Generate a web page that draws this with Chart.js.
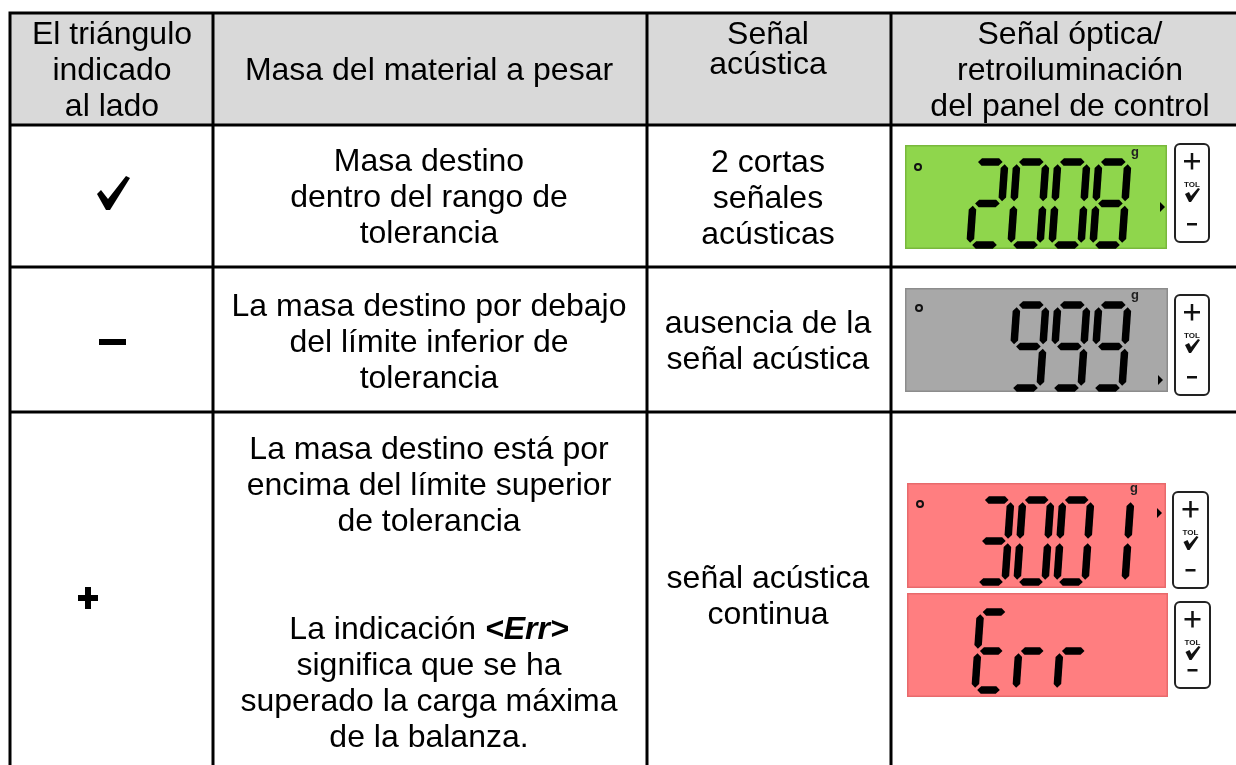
<!DOCTYPE html>
<html>
<head>
<meta charset="utf-8">
<script src="https://cdn.jsdelivr.net/npm/chart.js@4/dist/chart.umd.min.js"></script>
<style>
  html, body { margin: 0; padding: 0; background: #ffffff; }
  #c { display: block; }
</style>
</head>
<body>
<canvas id="c" width="1236" height="765"></canvas>
<script>
// ---------- DATA ----------
const headerTexts = [
  ["El triángulo", "indicado", "al lado"],
  ["Masa del material a pesar"],
  ["Señal", "acústica"],
  ["Señal óptica/", "retroiluminación", "del panel de control"]
];
const indicators = ["check", "minus", "plus"];
const massTexts = [
  ["Masa destino", "dentro del rango de", "tolerancia"],
  ["La masa destino por debajo", "del límite inferior de", "tolerancia"],
  ["La masa destino está por", "encima del límite superior", "de tolerancia", "", "",
   "La indicación <Err>", "significa que se ha", "superado la carga máxima", "de la balanza."]
];
const acousticTexts = [
  ["2 cortas", "señales", "acústicas"],
  ["ausencia de la", "señal acústica"],
  ["señal acústica", "continua"]
];
const displayReadings = ["2008", " 999", "3001", "Err "];
const displayStates = ["ok", "low", "high", "high"];

// ---------- STYLE / LAYOUT ----------
const stateFill = { ok: "#8fd64c", low: "#a8a8a8", high: "#ff7e80" };
const stateEdge = { ok: "#79b83c", low: "#8c8c8c", high: "#e86a6c" };
const FONT = '"Liberation Sans", Arial, Helvetica, sans-serif';
const colEdges = [10, 213, 647, 891, 1236];
const rowEdges = [13, 125, 267, 412, 765];
const colCenters = [112, 429, 768, 1070];
const headerBaselines = [[44, 80, 116], [80], [44, 74], [44, 80, 116]];
const massFirstBaseline = [171, 316, 459];
const acousticFirstBaseline = [172, 333, 588];
const bodyLH = 36;
const indicatorPos = [[113, 193], [112, 342], [88, 598]];
const panels = [
  { box: [905, 145, 1167, 249], btn: [1175, 144, 1209, 242], dx: 970, dy: 162, pitch: 41, dw: 29, dh: 83, circle: [918, 167], g: [1135, 156], tri: [1162, 207] },
  { box: [905, 288, 1168, 392], btn: [1175, 295, 1209, 395], dx: 970, dy: 305, pitch: 41, dw: 29, dh: 83, circle: [919, 308], g: [1135, 299], tri: [1160, 380] },
  { box: [907, 483, 1166, 588], btn: [1173, 492, 1208, 588], dx: 977, dy: 500, pitch: 40, dw: 28, dh: 82, circle: [920, 504], g: [1134, 492], tri: [1159, 513] },
  { box: [907, 593, 1168, 697], btn: [1175, 602, 1210, 688], dx: 975, dy: 612, pitch: 41, dw: 27, dh: 78, circle: null, g: null, tri: null }
];
const SEGMAP = { "0": "abcdef", "1": "bc", "2": "abged", "3": "abgcd", "8": "abcdefg", "9": "abcdfg", "E": "adefg", "r": "eg", " ": "" };

// ---------- DRAWING PLUGIN ----------
const tablePlugin = {
  id: "tablePlugin",
  afterDraw(chart) {
    const ctx = chart.ctx;
    const sx = chart.scales.x, sy = chart.scales.y;
    const X = v => sx.getPixelForValue(v);
    const Y = v => sy.getPixelForValue(v);
    ctx.save();

    ctx.fillStyle = "#d9d9d9";
    ctx.fillRect(X(colEdges[0]), Y(rowEdges[0]), X(colEdges[4]) - X(colEdges[0]), Y(rowEdges[1]) - Y(rowEdges[0]));

    ctx.strokeStyle = "#000";
    ctx.lineWidth = 3;
    ctx.beginPath();
    for (let i = 0; i < 4; i++) {
      ctx.moveTo(X(colEdges[0]) - 1.5, Y(rowEdges[i]));
      ctx.lineTo(X(colEdges[4]), Y(rowEdges[i]));
    }
    for (let j = 0; j < 4; j++) {
      ctx.moveTo(X(colEdges[j]), Y(rowEdges[0]));
      ctx.lineTo(X(colEdges[j]), Y(rowEdges[4]));
    }
    ctx.stroke();

    ctx.fillStyle = "#000";
    ctx.textBaseline = "alphabetic";
    const normal = "32px " + FONT;
    const bi = "italic bold 32px " + FONT;
    function drawLine(str, cx, by) {
      ctx.fillStyle = "#000";
      if (str.indexOf("<Err>") >= 0) {
        const parts = str.split("<Err>");
        ctx.font = normal; const w1 = ctx.measureText(parts[0]).width;
        ctx.font = bi; const w2 = ctx.measureText("<Err>").width;
        const x0 = cx - (w1 + w2) / 2;
        ctx.textAlign = "left";
        ctx.font = normal; ctx.fillText(parts[0], x0, by);
        ctx.font = bi; ctx.fillText("<Err>", x0 + w1, by);
      } else {
        ctx.font = normal; ctx.textAlign = "center";
        ctx.fillText(str, cx, by);
      }
    }

    headerTexts.forEach((lines, c) => {
      lines.forEach((t, k) => drawLine(t, X(colCenters[c]), Y(headerBaselines[c][k])));
    });
    massTexts.forEach((lines, r) => {
      lines.forEach((t, k) => { if (t) drawLine(t, X(colCenters[1]), Y(massFirstBaseline[r] + k * bodyLH)); });
    });
    acousticTexts.forEach((lines, r) => {
      lines.forEach((t, k) => drawLine(t, X(colCenters[2]), Y(acousticFirstBaseline[r] + k * bodyLH)));
    });

    indicators.forEach((kind, r) => {
      const cx = X(indicatorPos[r][0]), cy = Y(indicatorPos[r][1]);
      ctx.fillStyle = "#000";
      if (kind === "check") {
        const pts = [[-16, 1], [-12, -3], [-5, 6], [13, -17], [17, -15], [-3, 17], [-7, 17]];
        ctx.beginPath();
        pts.forEach((p, i) => i ? ctx.lineTo(cx + p[0], cy + p[1]) : ctx.moveTo(cx + p[0], cy + p[1]));
        ctx.closePath(); ctx.fill();
      } else if (kind === "minus") {
        ctx.fillRect(cx - 13, cy - 3, 27, 6);
      } else {
        ctx.fillRect(cx - 10, cy - 3, 20, 6);
        ctx.fillRect(cx - 3, cy - 11, 6, 22);
      }
    });

    function drawDigit(ch, x, y, w, h, t, slant) {
      const segs = SEGMAP[ch] || "";
      const gap = 2.2;
      const P = { A: [0, 0], B: [w, 0], C: [0, h / 2], D: [w, h / 2], E: [0, h], F: [w, h] };
      const def = { a: ["A", "B"], b: ["B", "D"], c: ["D", "F"], d: ["E", "F"], e: ["C", "E"], f: ["A", "C"], g: ["C", "D"] };
      const tf = (u, v) => [x + u + slant * (h - v), y + v];
      for (const s of segs) {
        const p0 = P[def[s][0]], p1 = P[def[s][1]];
        const dxv = p1[0] - p0[0], dyv = p1[1] - p0[1];
        const L = Math.hypot(dxv, dyv);
        const ux = dxv / L, uy = dyv / L, nx = -uy, ny = ux;
        const s0 = [p0[0] + ux * gap, p0[1] + uy * gap];
        const s1 = [p1[0] - ux * gap, p1[1] - uy * gap];
        const hh = t / 2;
        const poly = [
          s0,
          [s0[0] + ux * hh + nx * hh, s0[1] + uy * hh + ny * hh],
          [s1[0] - ux * hh + nx * hh, s1[1] - uy * hh + ny * hh],
          s1,
          [s1[0] - ux * hh - nx * hh, s1[1] - uy * hh - ny * hh],
          [s0[0] + ux * hh - nx * hh, s0[1] + uy * hh - ny * hh]
        ];
        ctx.beginPath();
        poly.forEach((p, i) => { const q = tf(p[0], p[1]); i ? ctx.lineTo(q[0], q[1]) : ctx.moveTo(q[0], q[1]); });
        ctx.closePath();
        ctx.fill();
      }
    }

    displayReadings.forEach((reading, i) => {
      const pn = panels[i];
      const st = displayStates[i];
      const x0 = X(pn.box[0]), y0 = Y(pn.box[1]), x1 = X(pn.box[2]), y1 = Y(pn.box[3]);
      ctx.fillStyle = stateFill[st];
      ctx.fillRect(x0, y0, x1 - x0, y1 - y0);
      ctx.strokeStyle = stateEdge[st];
      ctx.lineWidth = 1.5;
      ctx.strokeRect(x0 + 0.75, y0 + 0.75, x1 - x0 - 1.5, y1 - y0 - 1.5);

      ctx.fillStyle = "#000";
      for (let k = 0; k < reading.length; k++) {
        drawDigit(reading[k], X(pn.dx + k * pn.pitch), Y(pn.dy), pn.dw, pn.dh, 7.5, 0.07);
      }
      if (pn.circle) {
        ctx.strokeStyle = "#111"; ctx.lineWidth = 2;
        ctx.beginPath(); ctx.arc(X(pn.circle[0]), Y(pn.circle[1]), 3, 0, Math.PI * 2); ctx.stroke();
      }
      if (pn.g) {
        ctx.fillStyle = "#222"; ctx.font = "bold 13px " + FONT; ctx.textAlign = "center";
        ctx.fillText("g", X(pn.g[0]), Y(pn.g[1]));
      }
      if (pn.tri) {
        const tx = X(pn.tri[0]), ty = Y(pn.tri[1]);
        ctx.fillStyle = "#000";
        ctx.beginPath(); ctx.moveTo(tx - 2, ty - 5); ctx.lineTo(tx + 3, ty); ctx.lineTo(tx - 2, ty + 5); ctx.closePath(); ctx.fill();
      }

      const bx0 = X(pn.btn[0]), by0 = Y(pn.btn[1]), bx1 = X(pn.btn[2]), by1 = Y(pn.btn[3]);
      ctx.strokeStyle = "#222"; ctx.lineWidth = 2;
      ctx.beginPath();
      if (ctx.roundRect) ctx.roundRect(bx0, by0, bx1 - bx0, by1 - by0, 5); else ctx.rect(bx0, by0, bx1 - bx0, by1 - by0);
      ctx.stroke();
      const bcx = (bx0 + bx1) / 2;
      ctx.fillStyle = "#111";
      ctx.fillRect(bcx - 8, by0 + 16, 16, 2.5);
      ctx.fillRect(bcx - 1.25, by0 + 9, 2.5, 16.5);
      ctx.font = "bold 8px " + FONT; ctx.textAlign = "center";
      ctx.fillText("TOL", bcx, by0 + 43);
      ctx.beginPath();
      ctx.moveTo(bcx - 7, by0 + 50); ctx.lineTo(bcx - 3, by0 + 48); ctx.lineTo(bcx - 1, by0 + 52);
      ctx.lineTo(bcx + 6, by0 + 44); ctx.lineTo(bcx + 8, by0 + 45); ctx.lineTo(bcx - 1, by0 + 58); ctx.lineTo(bcx - 3, by0 + 58);
      ctx.closePath(); ctx.fill();
      ctx.fillRect(bcx - 5, by1 - 19, 10, 2.5);
    });

    ctx.restore();
  }
};

new Chart(document.getElementById("c").getContext("2d"), {
  type: "scatter",
  data: { datasets: [{ data: [], showLine: false, pointRadius: 0 }] },
  options: {
    responsive: false,
    animation: false,
    events: [],
    layout: { padding: 0 },
    plugins: { legend: { display: false }, tooltip: { enabled: false }, title: { display: false } },
    scales: {
      x: { type: "linear", min: 0, max: 1236, display: false },
      y: { type: "linear", min: 0, max: 765, reverse: true, display: false }
    }
  },
  plugins: [tablePlugin]
});
</script>
</body>
</html>
